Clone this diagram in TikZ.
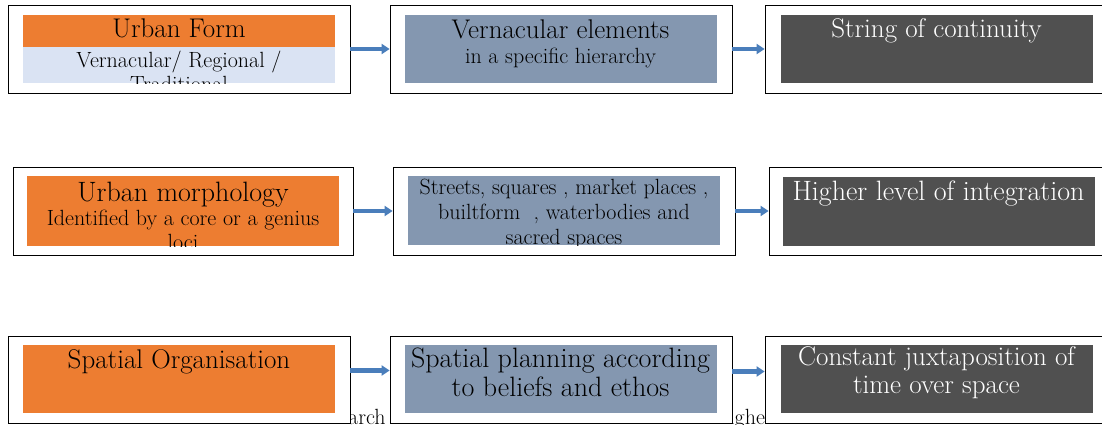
\documentclass[tikz,border=0pt]{standalone}
\usetikzlibrary{positioning,arrows.meta}
\definecolor{formorange}{HTML}{ED7D31}
\definecolor{paleblue}{HTML}{DAE3F3}
\definecolor{slateblue}{HTML}{8497B0}
\definecolor{coalgray}{HTML}{505050}
\definecolor{pipeblue}{HTML}{4A7EBB}
\newcommand\setsize[2]{\fontsize{#1}{#2}\selectfont}
\tikzset{
  frame/.style={draw, line width=0.8pt, fill=white, inner sep=0pt, minimum width=342pt},
  band/.style={inner sep=0pt, minimum width=312pt},
  txt/.style={anchor=base, inner sep=0pt, align=center},
  pipe/.style={-{Triangle[length=8pt,width=10pt]}, line width=4.5pt, pipeblue}
}
\begin{document}
\begin{tikzpicture}[x=1pt,y=-1pt]
    \useasboundingbox (0,0) rectangle (1102,424);
    % обрывки текста под рамками
    \node[anchor=base west, inner sep=0pt, font=\setsize{22}{24}] (tailA) at (348,424) {arch};
    \node[anchor=base west, inner sep=0pt, font=\setsize{22}{24}] (tailB) at (729,424) {ighe};
    % Первый ряд
    \node[frame, minimum height=88pt] (form) at (179,49) {};
    \node[band, fill=formorange, minimum height=32pt] (formhead) at (179,31) {};
    \node[band, fill=paleblue, minimum height=36pt, below=0pt of formhead] (formbody) {};
    \node[txt, font=\setsize{27}{28}] (formtitle) at ([yshift=-23pt]formhead.north) {Urban Form};
    \begin{scope}
      \clip (formbody.south west) rectangle (formbody.north east);
      \node[txt, font=\setsize{22}{24}] (formnote) at ([yshift=-44pt]formbody.north) {Vernacular/ Regional /\\Traditional};
    \end{scope}
    \node[frame, minimum height=88pt] (elem) at (561,49) {};
    \node[band, fill=slateblue, minimum height=68pt] (elembox) at (560.5,49) {};
    \node[txt, font=\setsize{27}{25}] (elemtext) at ([yshift=-49pt]elembox.north)
      {Vernacular elements\\{\setsize{22}{25}in a specific hierarchy}};
    \node[frame, minimum height=88pt] (cont) at (936,49) {};
    \node[band, fill=coalgray, minimum height=68pt] (contbox) at (936.5,49) {};
    \node[txt, font=\setsize{27}{28}, text=white] (conttext) at ([yshift=-23pt]contbox.north) {String of continuity};
    \draw[pipe] (form) -- (elem);
    \draw[pipe] (elem) -- (cont);
    % Второй ряд
    \node[frame, minimum width=340pt, minimum height=88pt] (morph) at (183,211) {};
    \node[band, fill=formorange, minimum height=70pt] (morphbox) at (183,211) {};
    \begin{scope}
      \clip (morphbox.south west) rectangle (morphbox.north east);
      \node[txt, font=\setsize{22}{24}] (morphtext) at ([yshift=-74pt]morphbox.north)
        {{\setsize{28}{24}Urban morphology}\\Identified by a core or a genius\\loci};
    \end{scope}
    \node[frame, minimum height=88pt] (places) at (564,211) {};
    \node[band, fill=slateblue, minimum height=69pt] (placesbox) at (564,210.5) {};
    \begin{scope}
      \clip (placesbox.south west) rectangle (placesbox.north east);
      \node[txt, font=\setsize{22}{25}] (placestext) at ([yshift=-69pt]placesbox.north)
        {Streets, squares , market places ,\\builtform~~, waterbodies and\\sacred spaces};
    \end{scope}
    \node[frame, minimum height=88pt] (integ) at (940,211) {};
    \node[band, fill=coalgray, minimum height=69pt] (integbox) at (938.5,211.5) {};
    \node[txt, font=\setsize{28}{28}, text=white] (integtext) at ([yshift=-24pt]integbox.north) {Higher level of integration};
    \draw[pipe] (morph) -- (places);
    \draw[pipe] (places) -- (integ);
    % Третий ряд
    \node[frame, minimum height=87pt] (space) at (179,379.5) {};
    \node[band, fill=formorange, minimum height=68pt] (spacebox) at (179,379) {};
    \node[txt, font=\setsize{27}{28}] (spacetext) at ([yshift=-24pt]spacebox.north) {Spatial Organisation};
    \node[frame, minimum height=87pt] (plan) at (561,379.5) {};
    \node[band, fill=slateblue, minimum height=68pt] (planbox) at (560.5,379) {};
    \node[txt, font=\setsize{28}{29}] (plantext) at ([yshift=-52pt]planbox.north)
      {Spatial planning according\\to beliefs and ethos};
    \node[frame, minimum height=87pt] (time) at (936,379.5) {};
    \node[band, fill=coalgray, minimum height=68pt] (timebox) at (936.5,379) {};
    \node[txt, font=\setsize{27}{28}, text=white] (timetext) at ([yshift=-49pt]timebox.north)
      {Constant juxtaposition of\\time over space};
    \draw[pipe] ([yshift=9pt]space.east) -- ([yshift=9pt]plan.west);
    \draw[pipe] ([yshift=8pt]plan.east) -- ([yshift=8pt]time.west);
\end{tikzpicture}
\end{document}
